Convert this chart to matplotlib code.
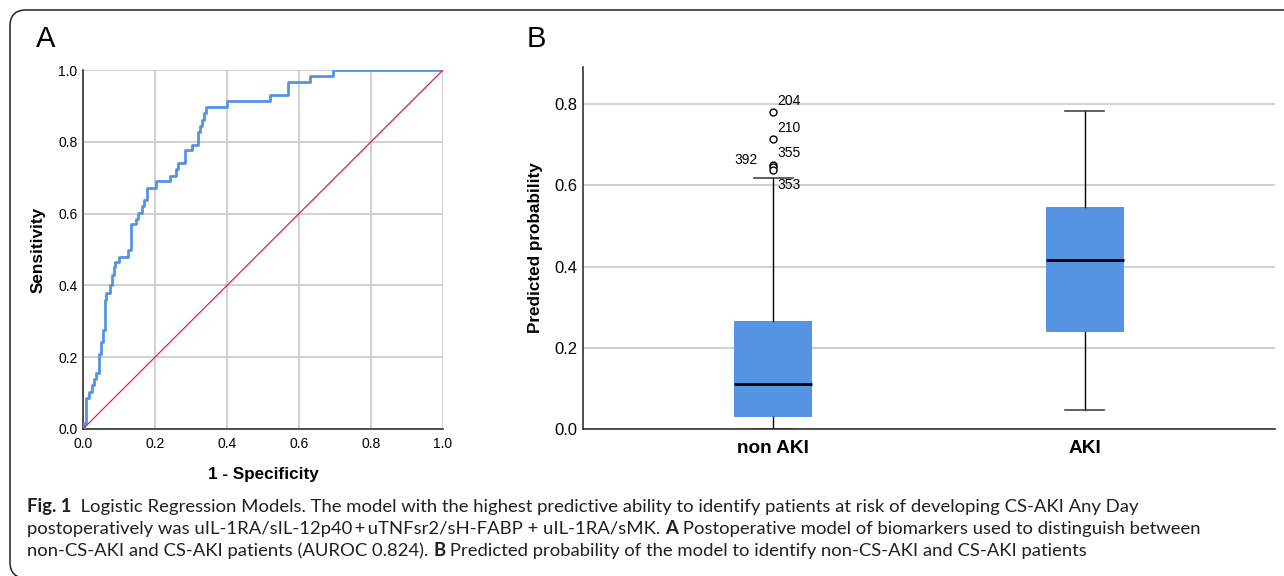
import matplotlib
matplotlib.use("Agg")
import matplotlib.pyplot as plt
from matplotlib.patches import FancyBboxPatch
from matplotlib.transforms import IdentityTransform

plt.rcParams['font.family'] = ['Liberation Sans', 'DejaVu Sans']

# ROC curve corners (1 - specificity, sensitivity)
roc_fpr = [0.0, 0.002, 0.009, 0.016, 0.025, 0.030, 0.036, 0.045, 0.050, 0.056,
           0.060, 0.065, 0.076, 0.081, 0.085, 0.090, 0.099, 0.125, 0.134, 0.148,
           0.153, 0.164, 0.169, 0.178, 0.203, 0.243, 0.258, 0.263, 0.282, 0.303,
           0.319, 0.326, 0.331, 0.335, 0.342, 0.400, 0.519, 0.569, 0.630, 0.694, 1.0]
roc_tpr = [0.0, 0.016, 0.085, 0.104, 0.122, 0.138, 0.157, 0.210, 0.243, 0.277,
           0.360, 0.380, 0.400, 0.430, 0.450, 0.465, 0.480, 0.500, 0.570, 0.586,
           0.603, 0.620, 0.638, 0.672, 0.690, 0.706, 0.725, 0.741, 0.776, 0.792,
           0.827, 0.845, 0.861, 0.880, 0.896, 0.915, 0.930, 0.966, 0.982, 1.0, 1.0]

# box plot summary
groups = ["non AKI", "AKI"]
q1 = [0.030, 0.240]
medians = [0.111, 0.417]
q3 = [0.266, 0.546]
whisk_lo = [0.0, 0.047]
whisk_hi = [0.617, 0.784]
outlier_vals = [0.780, 0.714, 0.650, 0.645, 0.638]
outlier_ids = ["204", "210", "355", "392", "353"]

caption = [
    [("Fig. 1", "bold"), ("  Logistic Regression Models. The model with the highest predictive ability "
                          "to identify patients at risk of developing CS-AKI Any Day", "normal")],
    [("postoperatively was uIL-1RA/sIL-12p40\u2009+\u2009uTNFsr2/sH-FABP + uIL-1RA/sMK. ", "normal"),
     ("A", "bold"), (" Postoperative model of biomarkers used to distinguish between", "normal")],
    [("non-CS-AKI and CS-AKI patients (AUROC 0.824). ", "normal"), ("B", "bold"),
     (" Predicted probability of the model to identify non-CS-AKI and CS-AKI patients", "normal")],
]

W, H = 1284, 576
fig = plt.figure(figsize=(W / 100, H / 100), dpi=100)

blue = "#5494E3"
grid_c = "#C8C8C8"

# ---- panel A : ROC
axA = fig.add_axes([83 / W, 1 - 429 / H, 360 / W, 359 / H])
axA.step(roc_fpr, roc_tpr, where="post", color=blue, lw=2.0, zorder=3)
axA.plot([0, 1], [0, 1], color="#DC2050", lw=0.9, zorder=3)
axA.set_xlim(0, 1)
axA.set_ylim(0, 1)
ticks = [0.0, 0.2, 0.4, 0.6, 0.8, 1.0]
axA.set_xticks(ticks)
axA.set_yticks(ticks)
axA.set_xticklabels([f"{t:.1f}" for t in ticks], fontsize=10)
axA.set_yticklabels([f"{t:.1f}" for t in ticks], fontsize=10)
axA.tick_params(length=0, pad=4)
axA.tick_params(axis="x", pad=6)
axA.grid(True, color=grid_c, lw=1.2)
axA.set_axisbelow(True)
for s in ["top", "right"]:
    axA.spines[s].set_visible(False)
for s in ["left", "bottom"]:
    axA.spines[s].set_color("#333333")
    axA.spines[s].set_linewidth(1.2)
axA.set_xlabel("1 - Specificity", fontsize=12.3, fontweight="bold", labelpad=11)
axA.set_ylabel("Sensitivity", fontsize=12.3, fontweight="bold", labelpad=9)

# ---- panel B : box plot
axB = fig.add_axes([583 / W, 1 - 429 / H, 692 / W, 362 / H])
stats = []
for i in range(len(groups)):
    stats.append({"label": groups[i], "q1": q1[i], "med": medians[i], "q3": q3[i],
                  "whislo": whisk_lo[i], "whishi": whisk_hi[i],
                  "fliers": outlier_vals if i == 0 else []})
axB.bxp(stats, positions=[0, 1], widths=0.25, patch_artist=True, showfliers=True,
        boxprops=dict(facecolor=blue, edgecolor=blue, lw=0),
        medianprops=dict(color="black", lw=2),
        whiskerprops=dict(color="black", lw=1),
        capprops=dict(color="#444444", lw=1.2),
        flierprops=dict(marker="o", markerfacecolor="white", markeredgecolor="black",
                        markersize=5, markeredgewidth=1),
        capwidths=0.125)
offsets = {"204": (3, 5), "210": (3, 5), "355": (3, 6), "392": (-28, 2), "353": (3, -14)}
for v, lab in zip(outlier_vals, outlier_ids):
    axB.annotate(lab, (0, v), xytext=offsets[lab], textcoords="offset points", fontsize=10)
axB.set_xlim(-0.61, 1.61)
axB.set_ylim(0, 0.8916)
axB.set_yticks([0.0, 0.2, 0.4, 0.6, 0.8])
axB.set_yticklabels(["0.0", "0.2", "0.4", "0.6", "0.8"], fontsize=12)
axB.set_xticks([0, 1])
axB.set_xticklabels(groups, fontsize=13.7, fontweight="bold")
axB.tick_params(length=0, pad=4)
axB.tick_params(axis="x", pad=8)
axB.yaxis.grid(True, color=grid_c, lw=1.2)
axB.set_axisbelow(True)
for s in ["top", "right"]:
    axB.spines[s].set_visible(False)
for s in ["left", "bottom"]:
    axB.spines[s].set_color("#333333")
    axB.spines[s].set_linewidth(1.2)
axB.set_ylabel("Predicted probability", fontsize=12.3, fontweight="bold", labelpad=8)

# panel letters
fig.text(36 / W, 1 - 39 / H, "A", fontsize=21, va="center", ha="left")
fig.text(527 / W, 1 - 39 / H, "B", fontsize=21, va="center", ha="left")

# frame around the figure
frame = FancyBboxPatch((10, -2), 1320, 568, boxstyle="round,pad=0,rounding_size=16",
                       transform=IdentityTransform(), fill=False, lw=1.1, ec="#222222")
fig.patches.append(frame)

# caption, pieces laid out one after another
renderer = fig.canvas.get_renderer()
baselines = [512, 534, 556]
for line, yb in zip(caption, baselines):
    x = 27
    for txt, wt in line:
        t = fig.text(x / W, 1 - yb / H, txt, fontsize=13.3, fontweight=wt,
                     family=["Lato", "DejaVu Sans"], va="baseline", ha="left", color="#231F20")
        bb = t.get_window_extent(renderer)
        x = bb.x1

fig.savefig("out.png", dpi=100)
